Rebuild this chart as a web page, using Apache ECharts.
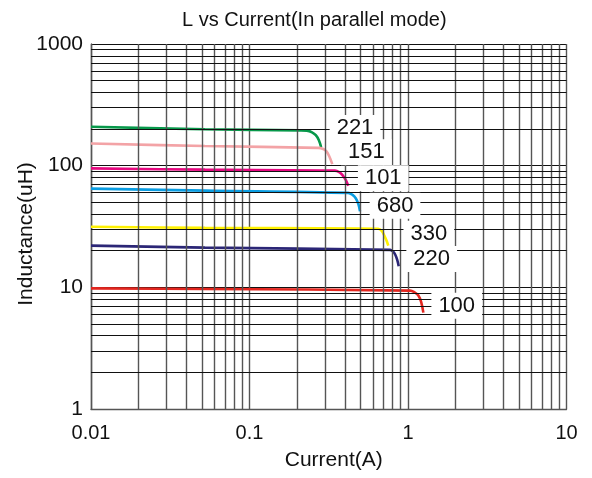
<!DOCTYPE html>
<html lang="en">
<head>
    <meta charset="UTF-8">
    <title>L vs Current</title>
    <script src="https://cdn.jsdelivr.net/npm/echarts@6/dist/echarts.min.js"></script>
    <style>
        html,
        body {
            margin: 0;
            height: 100%;
            background: #fff;
        }
        #main {
            width: 592px;
            height: 478px;
        }
    </style>
</head>
<body>
    <div id="main"></div>
    <script type="text/javascript">
        // part numbers, one curve each
        const parts = ['221', '151', '101', '680', '330', '220', '100'];

        // [current (A), inductance (uH)]
        const l221 = [[0.01, 209], [0.0524, 199], [0.208, 195], [0.23, 194], [0.248, 188], [0.262, 178], [0.274, 162], [0.283, 142]];
        const l151 = [[0.01, 152], [0.0524, 145], [0.271, 140], [0.292, 137], [0.306, 131], [0.318, 120], [0.333, 103]];
        const l101 = [[0.01, 95], [0.0524, 92.7], [0.346, 91], [0.368, 88.5], [0.385, 84], [0.403, 77], [0.42, 68.5]];
        const l680 = [[0.01, 64.7], [0.0524, 62.3], [0.42, 59.7], [0.447, 57.5], [0.468, 54], [0.486, 48.5], [0.498, 42.1]];
        const l330 = [[0.01, 31.5], [0.0524, 30.8], [0.649, 30.3], [0.685, 29], [0.71, 26.5], [0.734, 24], [0.751, 22]];
        const l220 = [[0.01, 22], [0.0524, 21.2], [0.77, 20.3], [0.805, 19.7], [0.83, 18.6], [0.855, 16.8], [0.874, 14.9]];
        const l100 = [[0.01, 9.8], [0.0524, 9.7], [1.03, 9.4], [1.1, 9.1], [1.16, 8.6], [1.21, 7.6], [1.25, 6.2]];

        const curves = [l221, l151, l101, l680, l330, l220, l100];
        const colors = ['#07984a', '#f3a3a6', '#e5087f', '#0a9de2', '#fff100', '#2b2676', '#e3261f'];

        const xTicks = [0.01, 0.1, 1, 10];
        const yTicks = [1, 10, 100, 1000];

        const myChart = echarts.init(document.getElementById('main'));

        // where each part label sits (data coords)
        const labelPos = [[0.463, 204], [0.546, 129], [0.698, 78.9], [0.828, 46.9], [1.353, 27.6], [1.411, 17.06], [2.03, 7.07]];

        // minor grid lines 2..9 of each decade
        const minorX = [];
        const minorY = [];
        [0.01, 0.1, 1].forEach(d => {
            for (let k = 2; k <= 9; k++) minorX.push({ xAxis: +(d * k).toPrecision(3) });
        });
        [1, 10, 100].forEach(d => {
            for (let k = 2; k <= 9; k++) minorY.push({ yAxis: d * k });
        });

        const series = curves.map((data, i) => ({
            name: parts[i],
            type: 'line',
            data: data,
            smooth: 0.35,
            showSymbol: false,
            symbol: 'none',
            z: 3,
            lineStyle: { color: colors[i], width: 2.6 },
            markPoint: {
                symbol: 'rect',
                symbolSize: 0.1,
                silent: true,
                z: 6,
                data: [{ coord: labelPos[i] }],
                label: {
                    show: true,
                    position: 'inside',
                    formatter: parts[i],
                    color: '#111',
                    fontFamily: 'Liberation Sans, Arial, sans-serif',
                    fontSize: 22,
                    backgroundColor: '#fff',
                    padding: [3, 7, 1, 7]
                }
            }
        }));

        series.unshift({
            type: 'line',
            data: [[0.01, 1]],
            symbol: 'none',
            silent: true,
            z: 1,
            lineStyle: { width: 0 },
            markLine: {
                silent: true,
                symbol: ['none', 'none'],
                animation: false,
                label: { show: false },
                data: minorX.map(d => Object.assign({ lineStyle: { color: '#555', width: 1.4, type: 'solid' } }, d))
                    .concat(minorY.map(d => Object.assign({ lineStyle: { color: '#111', width: 1.1, type: 'solid' } }, d)))
            }
        });

        myChart.setOption({
            animation: false,
            title: {
                text: 'L vs Current(In parallel mode)',
                left: 177,
                top: 5,
                textStyle: {
                    fontFamily: 'Liberation Sans, Arial, sans-serif',
                    fontSize: 20,
                    fontWeight: 'normal',
                    color: '#111'
                }
            },
            grid: {
                left: 91,
                top: 44,
                width: 475.5,
                height: 365,
                containLabel: false
            },
            xAxis: {
                type: 'log',
                logBase: 10,
                min: xTicks[0],
                max: xTicks[xTicks.length - 1],
                name: 'Current(A)',
                nameLocation: 'middle',
                nameGap: 41,
                nameMoveOverlap: false,
                nameTextStyle: {
                    fontFamily: 'Liberation Sans, Arial, sans-serif',
                    fontSize: 21,
                    color: '#111',
                    padding: [0, 0, 0, 10]
                },
                axisLine: { show: true, lineStyle: { color: '#555', width: 1.4 } },
                axisTick: { show: false },
                axisLabel: {
                    margin: 14,
                    fontFamily: 'Liberation Sans, Arial, sans-serif',
                    fontSize: 20,
                    color: '#111',
                    formatter: v => String(+v.toPrecision(3))
                },
                splitLine: { show: true, lineStyle: { color: '#555', width: 1.4 } }
            },
            yAxis: {
                type: 'log',
                logBase: 10,
                min: yTicks[0],
                max: yTicks[yTicks.length - 1],
                name: 'Inductance(uH)',
                nameLocation: 'middle',
                nameGap: 54,
                nameMoveOverlap: false,
                nameTextStyle: {
                    fontFamily: 'Liberation Sans, Arial, sans-serif',
                    fontSize: 21,
                    color: '#111',
                    padding: [0, 15, 0, 0]
                },
                axisLine: { show: true, lineStyle: { color: '#555', width: 1.4 } },
                axisTick: { show: false },
                axisLabel: {
                    margin: 8,
                    fontFamily: 'Liberation Sans, Arial, sans-serif',
                    fontSize: 21,
                    color: '#111',
                    formatter: v => String(Math.round(v))
                },
                splitLine: { show: true, lineStyle: { color: '#111', width: 1.1 } }
            },
            series: series
        });
    </script>
</body>
</html>
